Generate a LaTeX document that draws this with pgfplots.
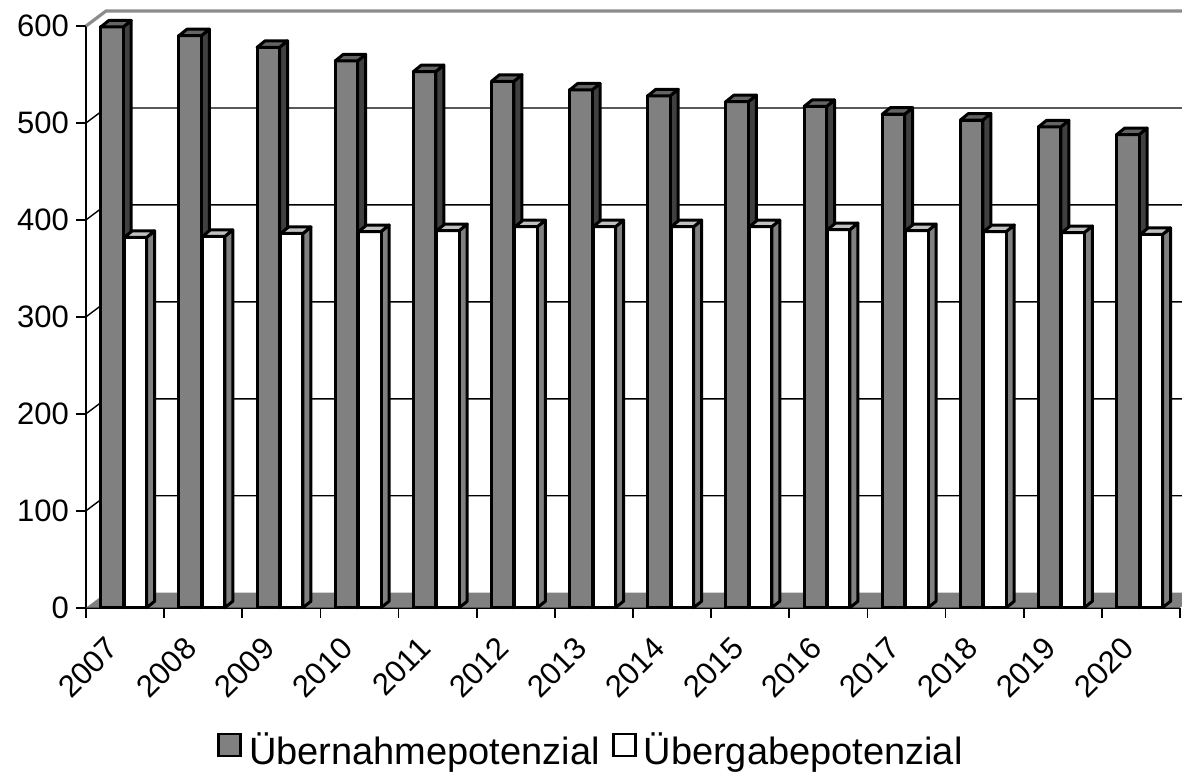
\documentclass[border=0pt]{standalone}
\usepackage{fontspec}
\setmainfont{Liberation Sans}
\usepackage{pgfplots}
\usepackage{pgfplotstable}
\pgfplotsset{compat=1.18}

\definecolor{barA}{RGB}{128,128,128}
\definecolor{barAtop}{RGB}{100,100,100}
\definecolor{barAside}{RGB}{64,64,64}
\definecolor{barBtop}{RGB}{192,192,192}
\definecolor{barBside}{RGB}{128,128,128}
\definecolor{wall}{RGB}{140,140,140}

% values (front axis: 0 ... 600)
\pgfplotstableread{
x a b
0 599 382
1 590 383
2 578 386
3 564 388
4 553 389
5 543 393
6 534 393
7 528 393
8 522 393
9 517 390
10 509 389
11 503 388
12 496 387
13 488 385
}\data

% 3d box as a plot mark: #2 front, #3 top, #4 side
\newcommand\boxmark[4]{%
\pgfdeclareplotmark{#1}{%
  \pgfmathsetlengthmacro\hh{\rawy*0.48475pt}%
  \begin{scope}[shift={(3.15pt,2.35pt)}, line width=1.5pt, line join=round, draw=black]
    \filldraw[fill=#4] (5.6pt,0pt) -- (9.6pt,3.25pt) -- (9.6pt,3.25pt-\hh) -- (5.6pt,-\hh) -- cycle;
    \filldraw[fill=#2] (-5.6pt,-\hh) rectangle (5.6pt,0pt);
    \filldraw[fill=#3] (-5.6pt,0pt) -- (5.6pt,0pt) -- (9.6pt,3.25pt) -- (-1.6pt,3.25pt) -- cycle;
  \end{scope}}}
\boxmark{boxA}{barA}{barAtop}{barAside}
\boxmark{boxB}{white}{barBtop}{barBside}

\begin{document}
\begin{tikzpicture}
\useasboundingbox (0,0) rectangle (591pt,388.5pt);
\begin{axis}[
  at={(43pt,84.65pt)}, anchor=south west,
  scale only axis,
  width=547pt, height=290.85pt,
  xmin=0, xmax=14, ymin=0, ymax=600,
  clip=false,
  axis lines=left,
  axis line style={-, line width=0.8pt},
  tick align=outside,
  major tick length=5pt,
  tick style={black, line width=0.8pt},
  xtick={0,...,14},
  xticklabels={},
  extra x ticks={0.5,1.5,...,13.5},
  extra x tick labels={2007,2008,2009,2010,2011,2012,2013,2014,2015,2016,2017,2018,2019,2020},
  extra x tick style={major tick length=0pt, grid=none},
  xticklabel style={anchor=base east, rotate=45},
  xticklabel shift=19pt,
  ytick={0,100,...,600},
  /pgf/number format/assume math mode=true,
  ticklabel style={font=\fontsize{15.5pt}{18pt}\selectfont},
  visualization depends on={rawy \as \rawy},
  legend style={at={(0.4625,-0.2446)}, anchor=center, draw=none,
    font=\fontsize{19pt}{22pt}\selectfont, legend columns=2,
    /tikz/every even column/.append style={column sep=4pt}},
]
% floor and back wall
\fill[barA] (axis cs:0,0) -- (axis cs:14,0) -- ([shift={(10pt,7.5pt)}]axis cs:14,0) -- ([shift={(10pt,7.5pt)}]axis cs:0,0) -- cycle;
\pgfplotsinvokeforeach{100,200,300,400,500}{
  \draw[black, line width=0.7pt] (axis cs:0,#1) -- ([shift={(10pt,7.5pt)}]axis cs:0,#1) -- ([shift={(10pt,7.5pt)}]axis cs:14,#1);
}
\draw[wall, line width=1.6pt] (axis cs:0,600) -- ([shift={(10pt,7.5pt)}]axis cs:0,600) -- ([shift={(10pt,7.5pt)}]axis cs:14,600);

\addlegendimage{legend image code/.code={\filldraw[fill=barA, draw=black, line width=1.4pt] (1pt,-3pt) rectangle (12pt,8pt); \path (14pt,0pt);}}
\addlegendentry{Übernahmepotenzial}
\addlegendimage{legend image code/.code={\filldraw[fill=white, draw=black, line width=1.4pt] (1pt,-3pt) rectangle (12pt,8pt); \path (14pt,0pt);}}
\addlegendentry{Übergabepotenzial}

\addplot[scatter, only marks, mark=boxA, forget plot,
  scatter/@pre marker code/.code={\pgfscope},
  scatter/@post marker code/.code={\endpgfscope}]
  table[x expr=\thisrow{x}+0.333, y=a] {\data};
\addplot[scatter, only marks, mark=boxB, forget plot,
  scatter/@pre marker code/.code={\pgfscope},
  scatter/@post marker code/.code={\endpgfscope}]
  table[x expr=\thisrow{x}+0.633, y=b] {\data};
\end{axis}
\end{tikzpicture}
\end{document}
